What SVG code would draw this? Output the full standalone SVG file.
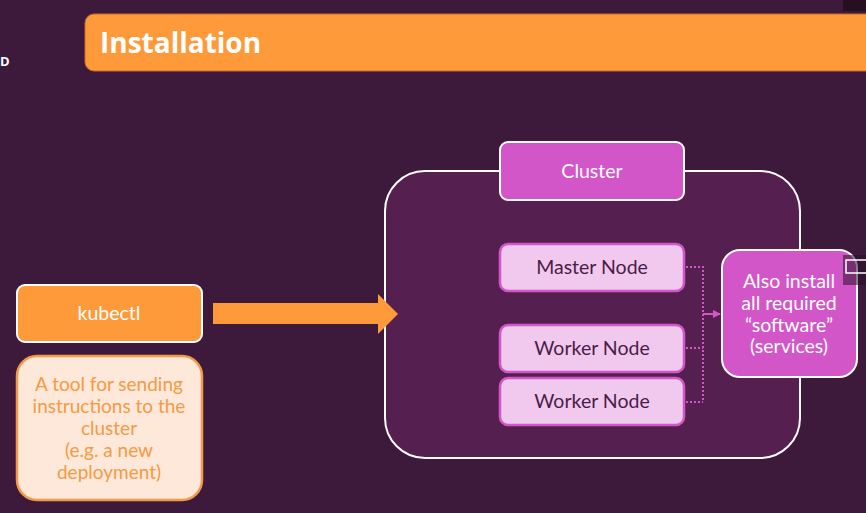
<svg xmlns="http://www.w3.org/2000/svg" width="866" height="513" viewBox="0 0 866 513">
<defs>
<style>
.t{font-family:Lato,"Noto Sans","Liberation Sans",sans-serif;font-size:19.5px;text-anchor:middle}
.w{fill:#ffffff}
.dk{fill:#4a1c47}
.or{fill:#f59a45;font-size:19px}
.node{fill:#f1c8ee;stroke:#d356c9;stroke-width:2.5}
.mag{fill:#d356c9;stroke:#ffffff;stroke-width:2}
.dot{fill:none;stroke:#d356c9;stroke-width:2;stroke-dasharray:2 2}
</style>
<marker id="ah" markerWidth="8" markerHeight="8" refX="7" refY="4" orient="auto" markerUnits="userSpaceOnUse">
<path d="M0,0 L8,4 L0,8 z" fill="#d356c9"/>
</marker>
</defs>
<rect x="0" y="0" width="866" height="513" fill="#3d1a3b"/>
<rect x="843" y="0" width="23" height="11" fill="#26101f"/>
<g id="title">
<rect x="85" y="14" width="800" height="57" rx="9" fill="#ff9a3a" stroke="#c86a2a" stroke-width="1"/>
<text x="100" y="53" font-family="'Open Sans','Liberation Sans',sans-serif" font-weight="bold" font-size="28" fill="#ffffff">Installation</text>
</g>
<text x="0" y="66" font-family="'Open Sans','Liberation Sans',sans-serif" font-weight="bold" font-size="13" fill="#ffffff">D</text>
<g id="cluster">
<rect x="385" y="171" width="415" height="287" rx="40" fill="#55204f" stroke="#ffffff" stroke-width="2"/>
<rect x="500" y="142" width="184" height="58" rx="8" class="mag"/>
<text x="592" y="178" class="t w">Cluster</text>
</g>
<g id="kubectl">
<rect x="17" y="285" width="185" height="57" rx="8" fill="#ff9a3a" stroke="#ffffff" stroke-width="2"/>
<text x="109" y="320" class="t w">kubectl</text>
</g>
<g id="desc">
<rect x="17" y="356" width="185" height="144" rx="20" fill="#fde8d9" stroke="#f39a48" stroke-width="2.5"/>
<text class="t or"><tspan x="109" y="391">A tool for sending</tspan><tspan x="109" y="413">instructions to the</tspan><tspan x="109" y="435">cluster</tspan><tspan x="109" y="457">(e.g. a new</tspan><tspan x="109" y="479">deployment)</tspan></text>
</g>
<g id="master">
<rect x="500" y="244" width="184" height="47" rx="8" class="node"/>
<text x="592" y="274" class="t dk">Master Node</text>
</g>
<g id="worker1">
<rect x="500" y="325" width="184" height="47" rx="8" class="node"/>
<text x="592" y="355" class="t dk">Worker Node</text>
</g>
<g id="worker2">
<rect x="500" y="378" width="184" height="47" rx="8" class="node"/>
<text x="592" y="408" class="t dk">Worker Node</text>
</g>
<g id="connectors">
<path d="M213,303 H378 V294 L398,314 L378,334 V324 H213 Z" fill="#ff9a3a"/>
<path class="dot" d="M686,267 H703 V402 M686,348 H703 M686,402 H703"/>
<path d="M703,314 H720" fill="none" stroke="#d356c9" stroke-width="2" marker-end="url(#ah)"/>
</g>
<g id="software">
<rect x="722" y="250" width="135" height="127" rx="18" class="mag"/>
<text class="t w"><tspan x="789" y="288">Also install</tspan><tspan x="789" y="310">all required</tspan><tspan x="789" y="332">“software”</tspan><tspan x="789" y="353">(services)</tspan></text>
</g>
<rect x="843" y="255" width="23" height="30" fill="#2a1028" opacity="0.55"/>
<rect x="846" y="260" width="22" height="13" fill="none" stroke="#ffffff" stroke-width="1.5"/>
</svg>
